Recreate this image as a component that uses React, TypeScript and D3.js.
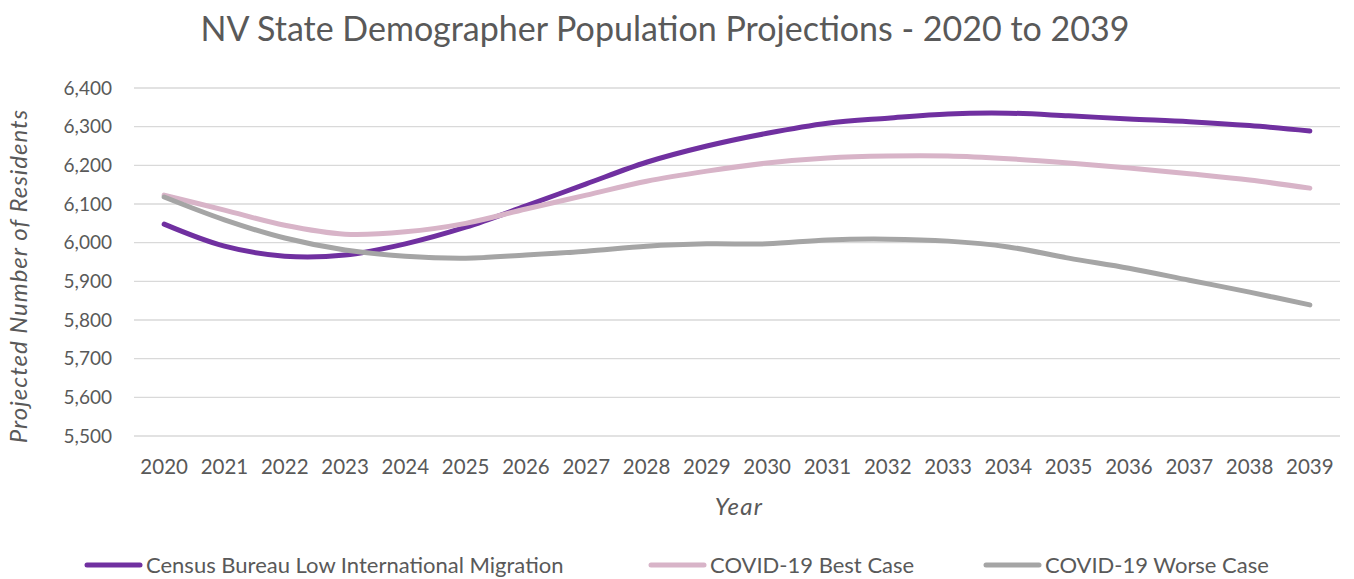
import React, { useEffect, useRef } from 'react';
import * as d3 from 'd3';

// chart data
const years = ['2020', '2021', '2022', '2023', '2024', '2025', '2026', '2027', '2028', '2029',
    '2030', '2031', '2032', '2033', '2034', '2035', '2036', '2037', '2038', '2039'];

const censusLow = [6048, 5991, 5965, 5968, 5997, 6040, 6095, 6152, 6208, 6250,
    6283, 6309, 6322, 6333, 6335, 6328, 6320, 6313, 6303, 6289];
const covidBest = [6123, 6084, 6045, 6022, 6028, 6050, 6087, 6123, 6159, 6185,
    6206, 6219, 6224, 6224, 6217, 6206, 6193, 6178, 6162, 6141];
const covidWorse = [6118, 6059, 6012, 5981, 5965, 5960, 5968, 5978, 5991, 5997,
    5997, 6007, 6009, 6004, 5989, 5960, 5934, 5903, 5872, 5839];

const yTicks = [5500, 5600, 5700, 5800, 5900, 6000, 6100, 6200, 6300, 6400];

const seriesNames = ['Census Bureau Low International Migration', 'COVID-19 Best Case', 'COVID-19 Worse Case'];
const seriesColors = ['#7030A0', '#D8B4C8', '#A5A5A5'];

const FONT = 'Lato, "Open Sans", sans-serif';
const TEXT = '#595959';

const App = () => {
    const svgRef = useRef<SVGSVGElement>(null);

    useEffect(() => {
        const width = 1354;
        const height = 579;
        const margin = { top: 88, right: 14, bottom: 143, left: 134 };
        const innerW = width - margin.left - margin.right;
        const innerH = height - margin.top - margin.bottom;

        const svg = d3.select(svgRef.current);
        svg.selectAll('*').remove();
        svg.attr('width', width).attr('height', height);

        const scaleX = d3.scaleBand().domain(years).range([0, innerW]);
        const scaleY = d3.scaleLinear().domain([5500, 6400]).range([innerH, 0]);

        const g = svg.append('g').attr('transform', `translate(${margin.left},${margin.top})`);

        // gridlines
        g.selectAll('.grid')
            .data(yTicks)
            .enter()
            .append('line')
            .attr('x1', 0)
            .attr('x2', innerW)
            .attr('y1', d => scaleY(d))
            .attr('y2', d => scaleY(d))
            .attr('stroke', '#D9D9D9')
            .attr('stroke-width', 1.3);

        // y tick labels
        g.selectAll('.ylab')
            .data(yTicks)
            .enter()
            .append('text')
            .attr('x', -22)
            .attr('y', d => scaleY(d))
            .attr('dy', '0.35em')
            .attr('text-anchor', 'end')
            .attr('fill', TEXT)
            .style('font-family', FONT)
            .style('font-size', '19px')
            .text(d => d3.format(',')(d));

        // x tick labels
        g.selectAll('.xlab')
            .data(years)
            .enter()
            .append('text')
            .attr('x', d => scaleX(d)! + scaleX.bandwidth() / 2)
            .attr('y', innerH + 38)
            .attr('text-anchor', 'middle')
            .attr('fill', TEXT)
            .style('font-family', FONT)
            .style('font-size', '20.5px')
            .text(d => d);

        // lines
        const allSeries = [censusLow, covidBest, covidWorse];
        const line = d3.line<number>()
            .x((_, i) => scaleX(years[i])! + scaleX.bandwidth() / 2)
            .y(d => scaleY(d))
            .curve(d3.curveCatmullRom.alpha(0.5));

        allSeries.forEach((values, i) => {
            g.append('path')
                .datum(values)
                .attr('d', line)
                .attr('fill', 'none')
                .attr('stroke', seriesColors[i])
                .attr('stroke-width', 5)
                .attr('stroke-linecap', 'round')
                .attr('stroke-linejoin', 'round');
        });

        // title
        svg.append('text')
            .attr('x', 665)
            .attr('y', 41)
            .attr('text-anchor', 'middle')
            .attr('fill', TEXT)
            .style('font-family', FONT)
            .style('font-size', '34px')
            .text('NV State Demographer Population Projections - 2020 to 2039');

        // axis titles
        svg.append('text')
            .attr('x', 739)
            .attr('y', 515)
            .attr('text-anchor', 'middle')
            .attr('fill', TEXT)
            .style('font-family', FONT)
            .style('font-size', '24px')
            .style('letter-spacing', '1.2px')
            .style('font-style', 'italic')
            .text('Year');

        svg.append('text')
            .attr('transform', 'translate(27,276) rotate(-90)')
            .attr('text-anchor', 'middle')
            .attr('fill', TEXT)
            .style('font-family', FONT)
            .style('font-size', '24px')
            .style('letter-spacing', '1px')
            .style('font-style', 'italic')
            .text('Projected Number of Residents');

        // legend (kept just inside the bottom edge)
        const legendX = [87, 651, 986];
        seriesNames.forEach((name, i) => {
            const lg = svg.append('g').attr('transform', `translate(${legendX[i]},565)`);
            lg.append('line')
                .attr('x1', 0)
                .attr('x2', 53)
                .attr('stroke', seriesColors[i])
                .attr('stroke-width', 5)
                .attr('stroke-linecap', 'round');
            lg.append('text')
                .attr('x', 59)
                .attr('dy', '0.35em')
                .attr('fill', TEXT)
                .style('font-family', FONT)
                .style('font-size', '22px')
                .text(name);
        });
    }, []);

    return (
        <svg ref={svgRef} style={{ position: 'absolute', left: 0, top: 0, background: '#fff' }}></svg>
    );
};

export default App;
